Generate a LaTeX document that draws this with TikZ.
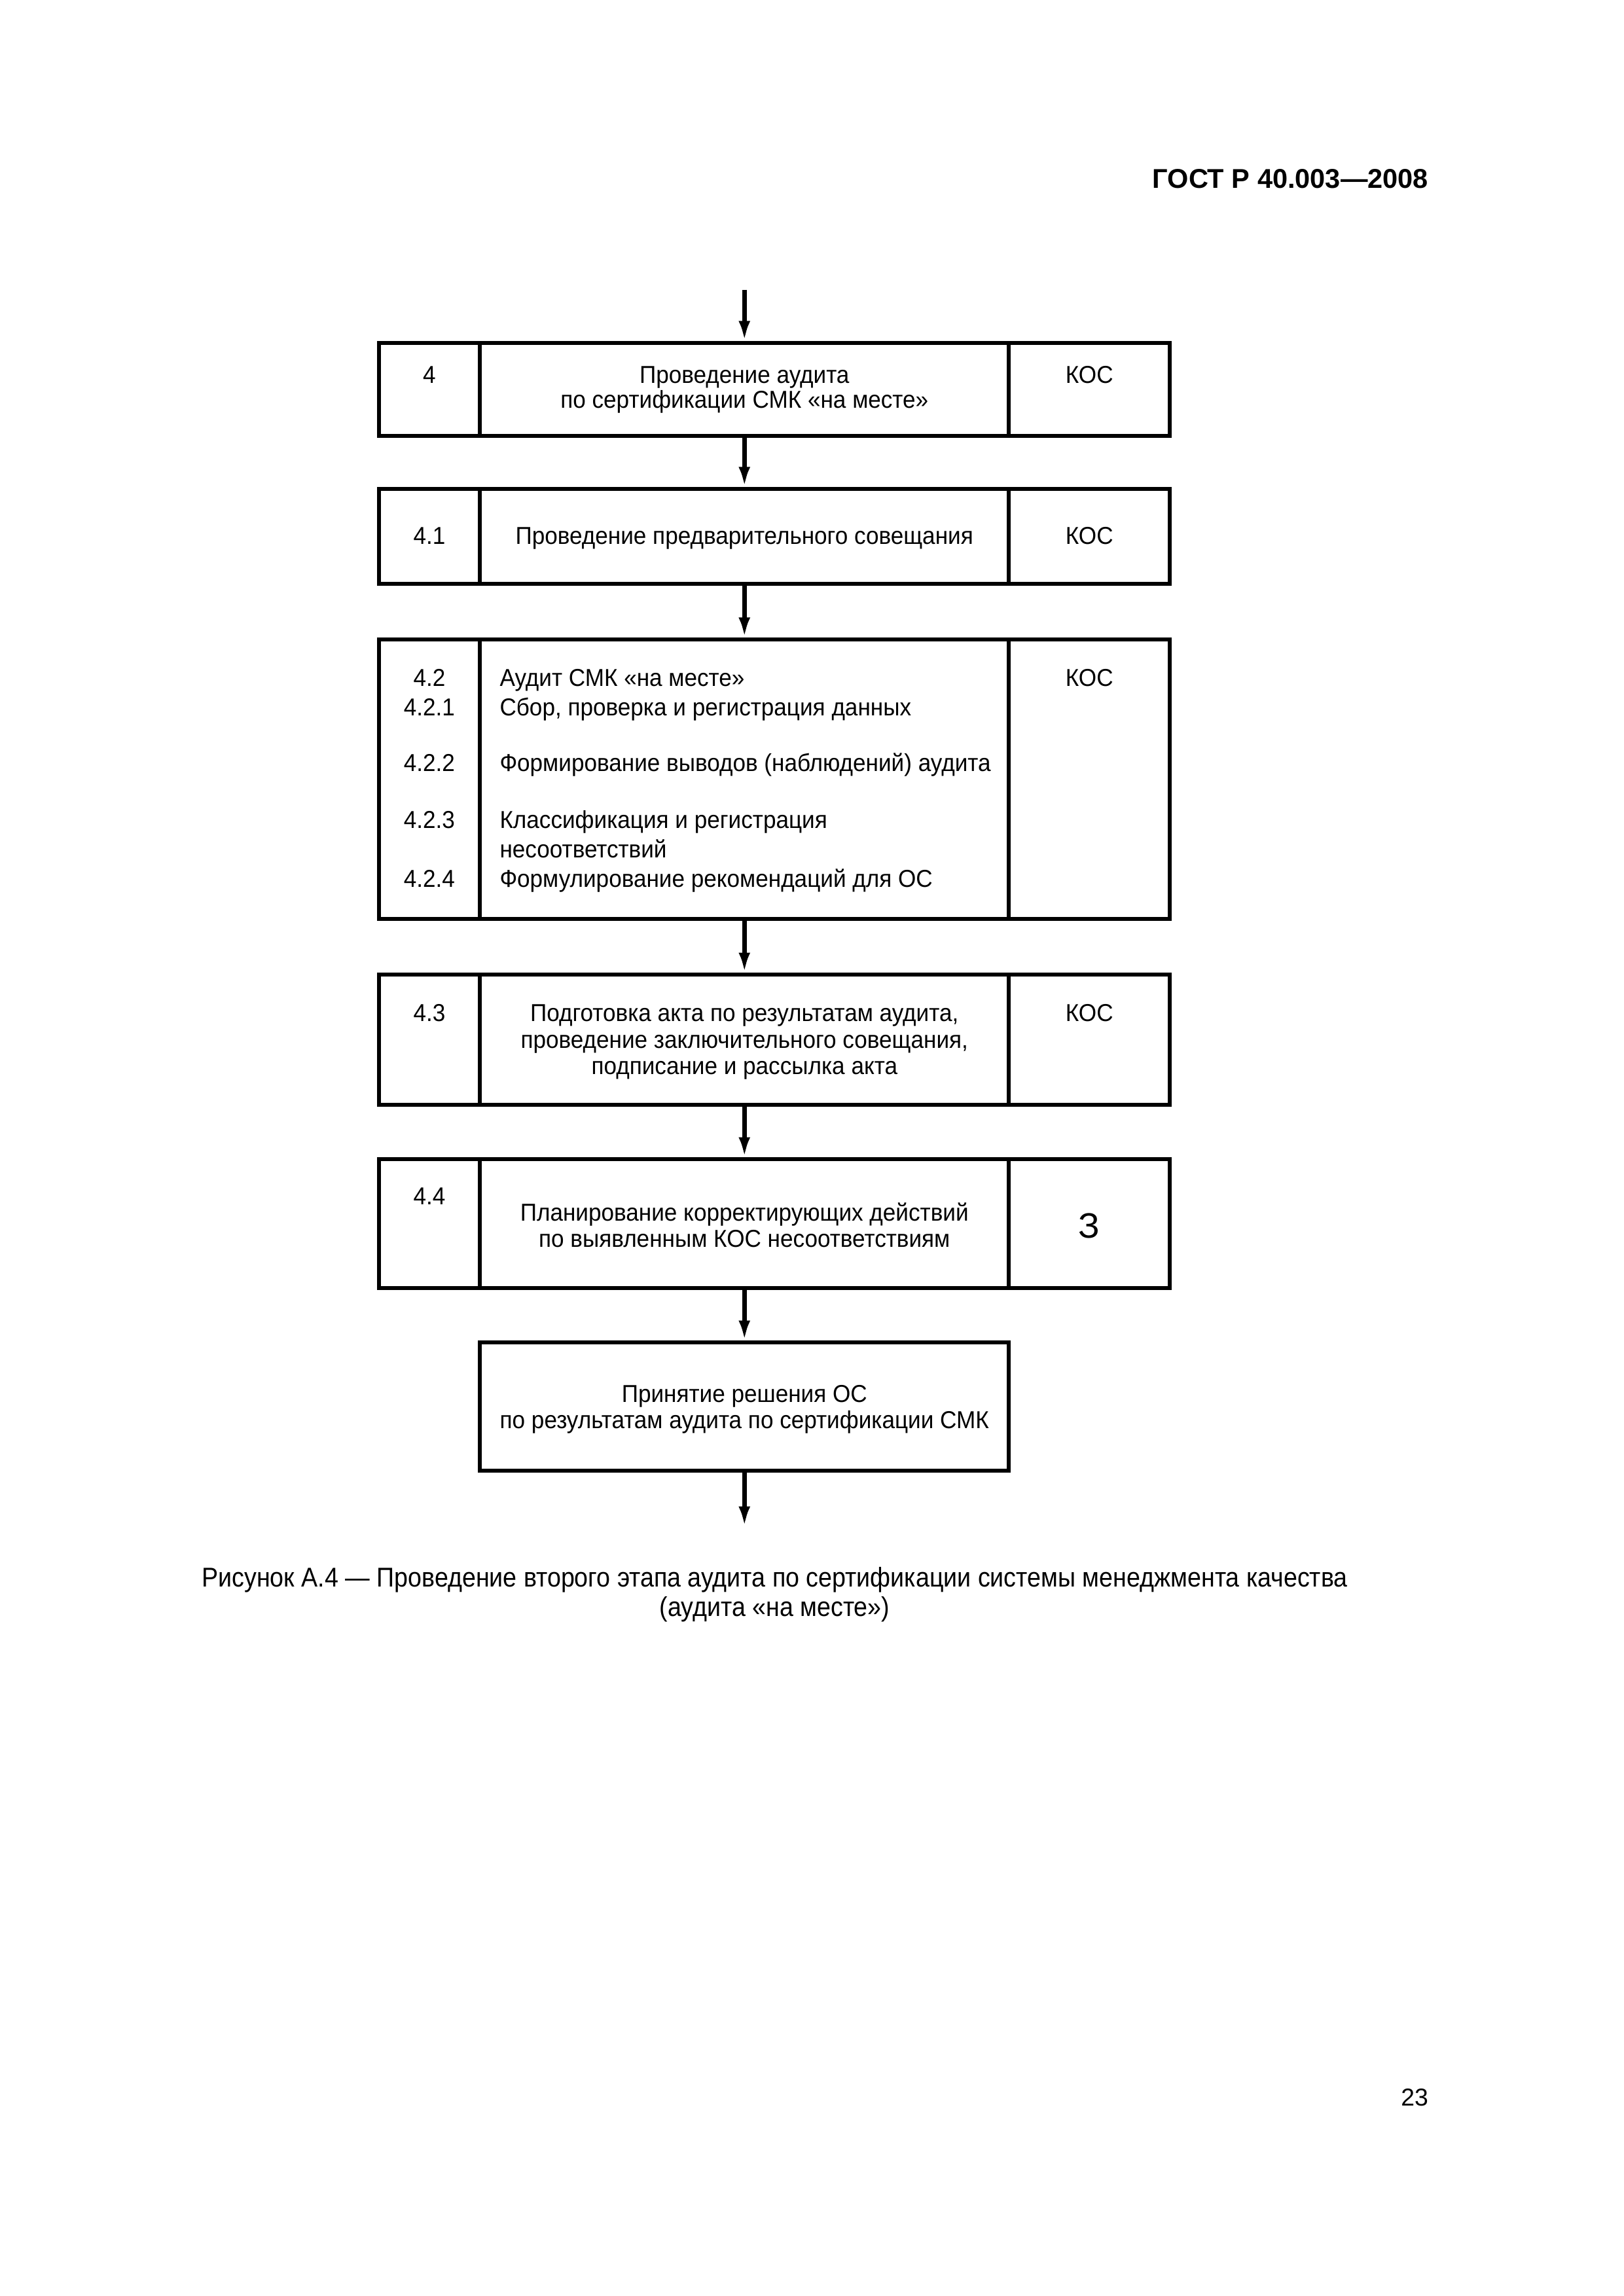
\documentclass[tikz,border=0pt]{standalone}
\usepackage{fontspec}
\setmainfont{Liberation Sans}
\newfontfamily\boxfont[FakeStretch=0.94]{Liberation Sans}
\newfontfamily\capfont[FakeStretch=0.906]{Liberation Sans}
\usetikzlibrary{arrows.meta}
\tikzset{
  cell/.style={draw, line width=1.44pt, inner sep=0pt, minimum height=#1},
  numcol/.style={cell=#1, minimum width=13.07mm},
  maincol/.style={cell=#1, minimum width=68.43mm},
  rightcol/.style={cell=#1, minimum width=20.8mm},
  txt/.style={font=\boxfont\fontsize{9}{10}\selectfont, anchor=base, inner sep=0pt},
  ltxt/.style={txt, anchor=base west},
  flow/.style={line width=1.6pt, -{Latex[length=2.6mm,width=1.5mm]}},
}
\begin{document}
\begin{tikzpicture}[x=1mm, y=-1mm]
\useasboundingbox (0,0) rectangle (210,297);
% header and page number
\node[anchor=base east, inner sep=0pt, font=\fontsize{10}{12}\selectfont\bfseries] (hdr) at (184.8,24.3) {ГОСТ Р 40.003—2008};
\node[anchor=base east, inner sep=0pt, font=\fontsize{9}{11}\selectfont] (pg) at (184.8,272.4) {23};
% row 1
\node[numcol=12.03mm] (n1) at (55.535,50.385) {};
\node[maincol=12.03mm] (m1) at (96.285,50.385) {};
\node[rightcol=12.03mm] (r1) at (140.9,50.385) {};
% row 2
\node[numcol=12.28mm] (n2) at (55.535,69.39) {};
\node[maincol=12.28mm] (m2) at (96.285,69.39) {};
\node[rightcol=12.28mm] (r2) at (140.9,69.39) {};
% row 3
\node[numcol=36.16mm] (n3) at (55.535,100.81) {};
\node[maincol=36.16mm] (m3) at (96.285,100.81) {};
\node[rightcol=36.16mm] (r3) at (140.9,100.81) {};
% row 4
\node[numcol=16.85mm] (n4) at (55.535,134.505) {};
\node[maincol=16.85mm] (m4) at (96.285,134.505) {};
\node[rightcol=16.85mm] (r4) at (140.9,134.505) {};
% row 5
\node[numcol=16.68mm] (n5) at (55.535,158.3) {};
\node[maincol=16.68mm] (m5) at (96.285,158.3) {};
\node[rightcol=16.68mm] (r5) at (140.9,158.3) {};
% row 6
\node[maincol=16.6mm] (m6) at (96.285,181.97) {};
% texts row 1
\node[txt] (t1n) at (55.535,49.57) {4};
\node[txt] (t1a) at (96.285,49.57) {Проведение аудита};
\node[txt] (t1b) at (96.285,52.79) {по сертификации СМК «на месте»};
\node[txt] (t1r) at (140.9,49.57) {КОС};
% texts row 2
\node[txt] (t2n) at (55.535,70.38) {4.1};
\node[txt] (t2a) at (96.285,70.38) {Проведение предварительного совещания};
\node[txt] (t2r) at (140.9,70.38) {КОС};
% texts row 3
\node[txt] (t3n0) at (55.535,88.76) {4.2};
\node[ltxt] (t3a0) at (64.57,88.76) {Аудит СМК «на месте»};
\node[txt] (t3r) at (140.9,88.76) {КОС};
\node[txt] (t3n1) at (55.535,92.55) {4.2.1};
\node[ltxt] (t3a1) at (64.57,92.55) {Сбор, проверка и регистрация данных};
\node[txt] (t3n2) at (55.535,99.76) {4.2.2};
\node[ltxt] (t3a2) at (64.57,99.76) {Формирование выводов (наблюдений) аудита};
\node[txt] (t3n3) at (55.535,107.14) {4.2.3};
\node[ltxt] (t3a3) at (64.57,107.14) {Классификация и регистрация};
\node[ltxt] (t3a3b) at (64.57,110.93) {несоответствий};
\node[txt] (t3n4) at (55.535,114.72) {4.2.4};
\node[ltxt] (t3a4) at (64.57,114.72) {Формулирование рекомендаций для ОС};
% texts row 4
\node[txt] (t4n) at (55.535,132.13) {4.3};
\node[txt] (t4a) at (96.285,132.13) {Подготовка акта по результатам аудита,};
\node[txt] (t4b) at (96.285,135.56) {проведение заключительного совещания,};
\node[txt] (t4c) at (96.285,138.98) {подписание и рассылка акта};
\node[txt] (t4r) at (140.9,132.13) {КОС};
% texts row 5
\node[txt] (t5n) at (55.535,155.81) {4.4};
\node[txt] (t5a) at (96.285,157.9) {Планирование корректирующих действий};
\node[txt] (t5b) at (96.285,161.31) {по выявленным КОС несоответствиям};
\node[txt, font=\fontsize{13}{15}\selectfont] (t5r) at (140.9,160.1) {З};
% texts row 6
\node[txt] (t6a) at (96.285,181.37) {Принятие решения ОС};
\node[txt] (t6b) at (96.285,184.78) {по результатам аудита по сертификации СМК};
% caption
\node[txt, font=\capfont\fontsize{10}{12}\selectfont] (cap1) at (100.2,205.3) {Рисунок А.4 — Проведение второго этапа аудита по сертификации системы менеджмента качества};
\node[txt, font=\capfont\fontsize{10}{12}\selectfont] (cap2) at (100.2,209.1) {(аудита «на месте»)};
% connectors
\coordinate (start) at (96.285,37.5);
\coordinate (finish) at (96.285,197.47);
\draw[flow] (start) -- (m1.north);
\draw[flow] (m1.south) -- (m2.north);
\draw[flow] (m2.south) -- (m3.north);
\draw[flow] (m3.south) -- (m4.north);
\draw[flow] (m4.south) -- (m5.north);
\draw[flow] (m5.south) -- (m6.north);
\draw[flow] (m6.south) -- (finish);
\end{tikzpicture}
\end{document}
